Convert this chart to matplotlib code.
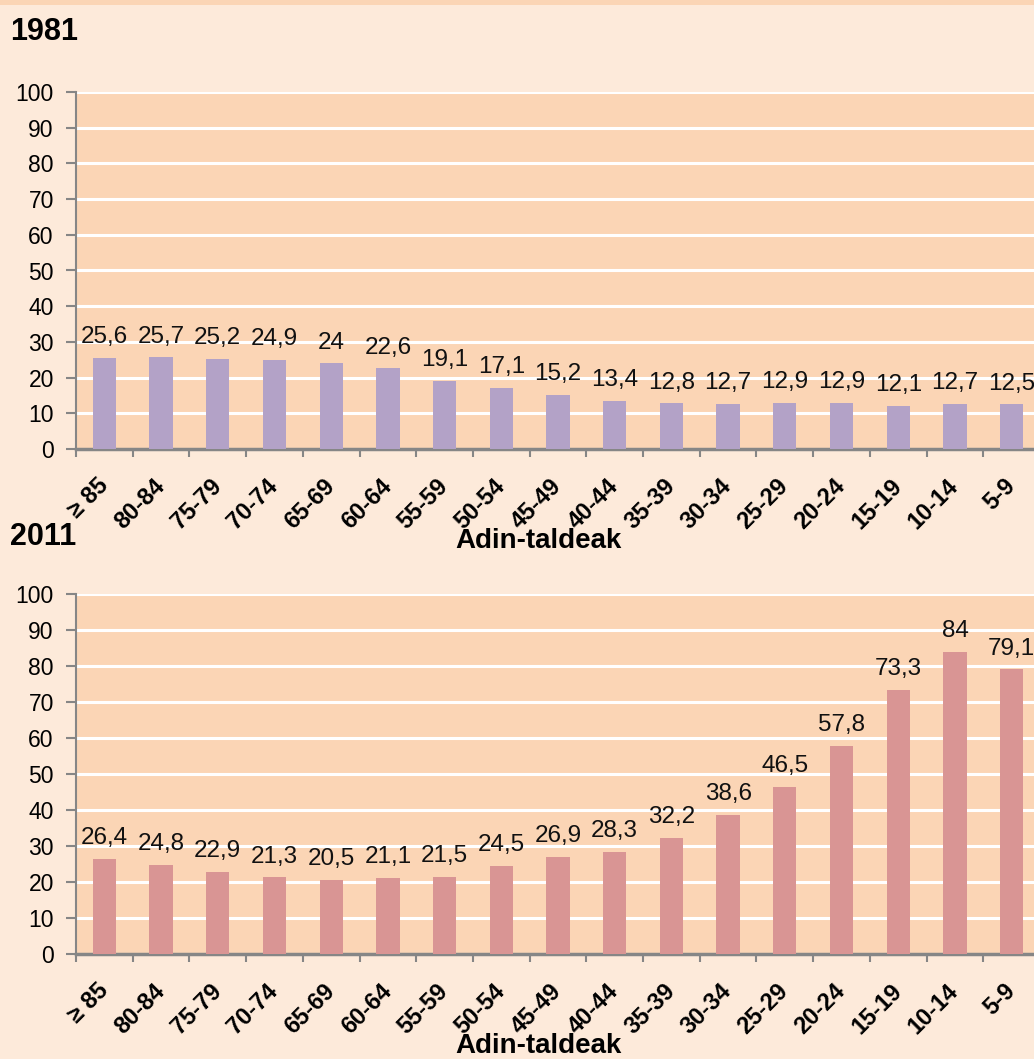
# Adin-taldeen grafikoak: 1981 eta 2011

import matplotlib
matplotlib.use("Agg")
import matplotlib.pyplot as plt
from matplotlib.patches import Rectangle

adin_taldeak = ["≥ 85", "80-84", "75-79", "70-74", "65-69", "60-64", "55-59", "50-54",
                "45-49", "40-44", "35-39", "30-34", "25-29", "20-24", "15-19", "10-14", "5-9"]
balioak_1981 = [25.6, 25.7, 25.2, 24.9, 24, 22.6, 19.1, 17.1, 15.2, 13.4, 12.8, 12.7,
                12.9, 12.9, 12.1, 12.7, 12.5]
balioak_2011 = [26.4, 24.8, 22.9, 21.3, 20.5, 21.1, 21.5, 24.5, 26.9, 28.3, 32.2, 38.6,
                46.5, 57.8, 73.3, 84, 79.1]

plt.rcParams["font.family"] = ["Liberation Sans", "DejaVu Sans"]

fondoa = "#FDEADA"
eremua = "#FBD5B5"
grisa = "#868686"

fig = plt.figure(figsize=(10.34, 10.59), dpi=100, facecolor=fondoa)
fig.patches.append(Rectangle((0, 1 - 5 / 1059), 1, 5 / 1059, transform=fig.transFigure,
                             facecolor=eremua, edgecolor="none", zorder=0))


def grafikoa(ax, balioak, kolorea, urtea, izenburu_y):
    x = list(range(len(adin_taldeak)))
    ax.set_facecolor(eremua)
    barrak = ax.bar(x, balioak, width=0.41, color=kolorea, zorder=3)
    etiketak = [f"{v:g}".replace(".", ",") for v in balioak]
    ax.bar_label(barrak, labels=etiketak, padding=7, fontsize=17.5, color="#111111")

    ax.set_xlim(-0.5, len(adin_taldeak) - 0.5)
    ax.set_ylim(0, 100)
    ax.set_yticks(range(0, 101, 10))
    ax.yaxis.grid(True, color="white", linewidth=2.2, zorder=1)
    ax.set_axisbelow(True)

    ax.set_xticks(x)
    ax.set_xticklabels(adin_taldeak, rotation=45, ha="right", va="center",
                       rotation_mode="anchor", fontweight="bold", fontsize=17)
    ax.set_xticks([i - 0.5 for i in range(len(adin_taldeak) + 1)], minor=True)
    ax.tick_params(axis="x", which="major", length=0, pad=24)
    ax.tick_params(axis="x", which="minor", length=6, width=1.5, color=grisa)
    ax.tick_params(axis="y", length=7, width=1.5, color=grisa, labelsize=16.5, pad=9)

    for s in ["top", "right"]:
        ax.spines[s].set_visible(False)
    ax.spines["left"].set_color(grisa)
    ax.spines["left"].set_linewidth(1.5)
    ax.spines["bottom"].set_color(grisa)
    ax.spines["bottom"].set_linewidth(2.5)

    ax.set_xlabel("Adin-taldeak", fontweight="bold", fontsize=20)
    ax.xaxis.set_label_coords(0.48, -0.22)
    fig.text(0.01, izenburu_y, urtea, fontweight="bold", fontsize=22, va="center")


ezk = 76 / 1034
zab = (1040 - 76) / 1034

ax1 = fig.add_axes([ezk, 1 - 449 / 1059, zab, (449 - 92) / 1059])
grafikoa(ax1, balioak_1981, "#B3A2C7", "1981", 1 - 32 / 1059)

ax2 = fig.add_axes([ezk, 1 - 954 / 1059, zab, (954 - 594) / 1059])
grafikoa(ax2, balioak_2011, "#D99594", "2011", 1 - 537 / 1059)

fig.savefig("out.png", dpi=100, facecolor=fondoa)
